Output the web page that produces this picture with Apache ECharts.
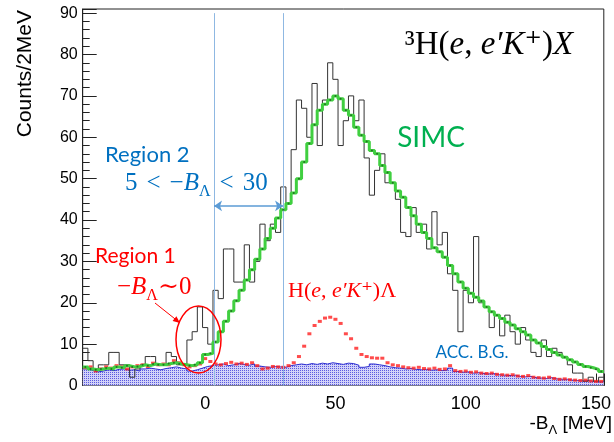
<!DOCTYPE html>
<html>
<head>
<meta charset="utf-8">
<script src="https://cdn.jsdelivr.net/npm/echarts@6/dist/echarts.min.js"></script>
<style>
    html, body { margin: 0; padding: 0; background: #fff; }
    #chart { width: 614px; height: 442px; }
</style>
</head>
<body>
<div id="chart"></div>
<script>
// 2 MeV bins, first lower edge at -47 MeV
const binStart = -47;
const binWidth = 2;

// measured spectrum (black histogram)
const dataCounts = [
    9, 6, 4, 5, 5, 8, 8, 5, 5, 2,
    4, 5, 7, 7, 5, 5, 8, 7, 5, 5,
    11, 13, 19, 14, 10, 23, 21, 33, 33, 25,
    25, 34, 25, 30, 39, 35, 39, 37, 48, 44,
    57, 69, 67, 60, 73, 58, 69, 78, 74, 58,
    64, 70, 64, 69, 55, 46, 52, 56, 49, 49,
    45, 37, 36, 43, 37, 39, 33, 42, 34, 37,
    27, 23, 13, 23, 20, 36, 20, 19, 14, 17,
    12, 17, 13, 10, 14, 11, 8, 7, 11, 7,
    9, 8, 7, 5, 3, 3, 1, 2, 1, 2
];

// SIMC (green)
const simcCounts = [
    4.5, 4, 3.8, 4, 4.2, 4, 4.5, 4.3, 4.8, 4.5,
    4.6, 5, 4.8, 5.2, 5, 5, 5.3, 5.5, 5.2, 5,
    4.8, 5, 5.5, 7.5, 7.8, 10.5, 13, 15.5, 18, 20.5,
    23, 25.5, 28, 30.5, 33, 35.5, 38, 40.5, 42.5, 44,
    46.5, 50, 54, 58.5, 63, 66.5, 68, 69, 70, 69.3,
    66.5, 65.3, 62.4, 60.5, 59, 56.8, 56, 53.2, 51.5, 49,
    47, 45.5, 43, 41, 39, 37, 35.5, 33.3, 32.3, 31,
    29, 27, 25, 23.5, 22.3, 21.3, 20.4, 19, 17.8, 17,
    16.2, 15.3, 14.6, 13.7, 13, 12.2, 11, 10.3, 9.4, 8.7,
    8, 7.4, 6.8, 6.2, 5.7, 5.1, 4.6, 4.3, 3.9, 3.4
];

// H(e,e'K+)Lambda (red points)
const hLambda = [
    4.3, 4.5, 3.5, 4, 4.5, 4.2, 4.8, 4.5, 4, 4.5,
    4.8, 5, 4.6, 5.4, 5, 5.2, 5, 6, 5.5, 5,
    4.5, 4.8, 5.2, 6.5, 5.8, 5.2, 5, 5.3, 5.6, 5.2,
    5.4, 5.1, 5.5, 4.8, 4, 4.2, 4.6, 4.5, 4.4, 4.8,
    5.5, 7, 9.5, 12.5, 14.5, 15.5, 16.3, 16.5, 16, 15,
    12.5, 11.3, 9, 7.5, 7, 6.7, 6.6, 6.6, 5.5, 5,
    4.8, 4.5, 4.3, 4.2, 4.4, 4.1, 4, 4.2, 3.9, 4,
    4.8, 3.6, 3.4, 3.5, 3.2, 3.3, 3, 2.9, 3, 2.7,
    2.6, 2.5, 2.6, 2.3, 2.2, 2.4, 2, 1.9, 1.8, 2,
    1.7, 1.5, 1.6, 1.4, 1.3, 1.2, 1.3, 1.1, 1, 1
];

// accidental background (blue hatched)
const accBG = [
    4, 3.6, 3.3, 3.5, 3.8, 3.6, 3.9, 4, 3.7, 3.8,
    3.5, 4, 4.2, 4, 3.8, 4.1, 4.3, 4.5, 4.2, 4,
    3.5, 3.8, 4.2, 4.6, 4.8, 5, 5.2, 4.8, 5, 5.3,
    5.1, 4.9, 5.2, 4.7, 4.5, 4.4, 4.6, 4.5, 4.4, 4.8,
    5, 5.2, 5, 5.3, 5.1, 5.4, 5.2, 5.5, 5.3, 5.1,
    5.4, 5.3, 4.9, 4.4, 4.6, 5.2, 5, 4.8, 4.5, 4.3,
    4.2, 4, 4.1, 3.9, 3.8, 3.9, 3.7, 3.8, 3.6, 3.7,
    4.2, 3.4, 3.2, 3.3, 3, 3.1, 2.9, 2.8, 2.9, 2.6,
    2.5, 2.4, 2.5, 2.2, 2.1, 2.2, 1.9, 1.8, 1.7, 1.9,
    1.6, 1.5, 1.5, 1.3, 1.2, 1.1, 1.2, 1, 0.9, 0.9
];

const xMin = -47, xMax = 153;
const yMin = 0, yMax = 91;
const regionEdges = [3.4, 29.9];   // region 2 marker lines

// histogram -> step points (left edges + closing right edge)
function stepData(vals) {
    let pts = vals.map((v, i) => [binStart + i * binWidth, v]);
    pts.push([binStart + vals.length * binWidth, vals[vals.length - 1]]);
    return pts;
}
function centerData(vals) {
    return vals.map((v, i) => [binStart + (i + 0.5) * binWidth, v]);
}

// dotted blue hatch for the acc. background
const pat = document.createElement("canvas");
pat.width = 2; pat.height = 2;
const pctx = pat.getContext("2d");
pctx.fillStyle = "#d2d2f8"; pctx.fillRect(0, 0, 2, 2);
pctx.fillStyle = "#5a5ae0"; pctx.fillRect(0, 0, 1, 1);

const sans = '"Liberation Sans", Arial, sans-serif';
const serif = '"Liberation Serif", "DejaVu Serif", serif';
const calib = 'Lato, "Open Sans", sans-serif';

let chart = echarts.init(document.querySelector("#chart"));

// rich styles for the math-ish labels (n normal, i italic, s subscript, o spaced operator)
function mathRich(size, color) {
    let sub = Math.round(size * 0.65);
    return {
        n: { fontFamily: serif, fontSize: size, fill: color, lineHeight: size },
        i: { fontFamily: serif, fontSize: size, fontStyle: "italic", fill: color, lineHeight: size },
        o: { fontFamily: serif, fontSize: size, fill: color, lineHeight: size, padding: [0, 9, 0, 9] },
        s: { fontFamily: serif, fontSize: sub, fill: color, lineHeight: sub,
             verticalAlign: "top", padding: [Math.round(size * 0.5), 0, 0, 0] }
    };
}

let option = {
    animation: false,
    backgroundColor: "#fff",
    grid: {
        left: 82.7, right: 3.3, top: 9, bottom: 56.5,
        show: true, borderColor: "#222", borderWidth: 1, backgroundColor: "transparent"
    },
    xAxis: [
        {
            type: "value", min: xMin, max: xMax, splitNumber: 4,
            axisLine: { onZero: false, lineStyle: { color: "#222" } },
            axisTick: { inside: true, length: 12, lineStyle: { color: "#222" } },
            axisLabel: {
                color: "#000", fontSize: 18, fontFamily: sans, margin: 10,
                formatter: v => (v % 50 === 0 ? String(v) : "")
            },
            splitLine: { show: false }
        },
        {
            type: "value", min: xMin, max: xMax, splitNumber: 20, position: "bottom",
            axisLine: { show: false, onZero: false },
            axisTick: { inside: true, length: 6, lineStyle: { color: "#222" } },
            axisLabel: { show: false },
            splitLine: { show: false }
        }
    ],
    yAxis: [
        {
            type: "value", min: yMin, max: yMax, interval: 10,
            axisLine: { show: true, onZero: false, lineStyle: { color: "#222" } },
            axisTick: { show: true, inside: true, length: 14, lineStyle: { color: "#222" } },
            axisLabel: {
                color: "#000", fontSize: 16, fontFamily: sans, margin: 5,
                formatter: v => (v % 10 === 0 && v <= 90 ? String(v) : "")
            },
            splitLine: { show: false }
        },
        {
            type: "value", min: yMin, max: yMax, interval: 2, position: "left",
            axisLine: { show: false, onZero: false },
            axisTick: { show: true, inside: true, length: 7, lineStyle: { color: "#222" } },
            axisLabel: { show: false },
            splitLine: { show: false }
        }
    ],
    series: [
        {
            name: "ACC. B.G.", type: "line", step: "end", z: 1,
            data: stepData(accBG), symbol: "none",
            lineStyle: { color: "#2b2bd0", width: 1 },
            areaStyle: { color: { image: pat, repeat: "repeat" }, opacity: 1 }
        },
        {
            name: "data", type: "line", step: "end", z: 2,
            data: stepData(dataCounts), symbol: "none",
            lineStyle: { color: "#333", width: 1 },
            markLine: {
                silent: true, symbol: "none", label: { show: false },
                lineStyle: { color: "#8fb8e2", width: 1, type: "solid" },
                data: regionEdges.map(x => [{ coord: [x, 0] }, { coord: [x, 90] }])
            }
        },
        {
            name: "H", type: "scatter", z: 3,
            data: centerData(hLambda), symbol: "rect", symbolSize: [4, 3],
            itemStyle: { color: "#ff1f1f" }
        },
        {
            name: "SIMC", type: "line", step: "end", z: 4,
            data: stepData(simcCounts), symbol: "none",
            lineStyle: { color: "#40cf40", width: 3 },
            markLine: {
                silent: true, symbol: ["arrow", "arrow"], symbolSize: 8, label: { show: false },
                lineStyle: { color: "#5b9bd5", width: 1.5, type: "solid" },
                data: [[{ coord: [regionEdges[0], 43.4] }, { coord: [regionEdges[1], 43.4] }]]
            }
        },
        {
            name: "SIMC pts", type: "scatter", z: 5,
            data: centerData(simcCounts), symbol: "circle", symbolSize: 2,
            itemStyle: { color: "#1d5a1d" }
        }
    ],
    graphic: [
        // axis titles
        {
            type: "text", x: 25, y: 10, rotation: Math.PI / 2,
            style: { text: "Counts/2MeV", font: "21px " + sans, fill: "#000",
                     align: "right", verticalAlign: "middle" }
        },
        {
            type: "text", x: 612, y: 424,
            style: {
                text: "{n|-B}{s|Λ}{n| [MeV]}", align: "right", verticalAlign: "middle",
                rich: {
                    n: { fontFamily: sans, fontSize: 19, fill: "#000", lineHeight: 19 },
                    s: { fontFamily: sans, fontSize: 13, fill: "#000", lineHeight: 13, verticalAlign: "top", padding: [9, 0, 0, 0] }
                }
            }
        },
        // reaction label
        {
            type: "text", x: 489, y: 45,
            style: {
                text: "{n|³H(}{i|e}{n|, }{i|e′K}{n|⁺)}{i|X}", align: "center", verticalAlign: "middle",
                rich: mathRich(33, "#000")
            }
        },
        {
            type: "text", x: 431, y: 138,
            style: { text: "SIMC", font: "28px " + calib, fill: "#00b050",
                     align: "center", verticalAlign: "middle" }
        },
        {
            type: "text", x: 105, y: 155,
            style: { text: "Region 2", font: "22px " + calib, fill: "#0070c0",
                     align: "left", verticalAlign: "middle" }
        },
        {
            type: "text", x: 125, y: 183,
            style: {
                text: "{n|5}{o|<}{n|−}{i|B}{s|Λ}{o|<}{n|30}", align: "left", verticalAlign: "middle",
                rich: mathRich(25, "#0070c0")
            }
        },
        {
            type: "text", x: 95, y: 256,
            style: { text: "Region 1", font: "21px " + calib, fill: "#ff0000",
                     align: "left", verticalAlign: "middle" }
        },
        {
            type: "text", x: 117, y: 287,
            style: {
                text: "{n|−}{i|B}{s|Λ}{n|∼0}", align: "left", verticalAlign: "middle",
                rich: mathRich(25, "#ff0000")
            }
        },
        {
            type: "text", x: 288, y: 291,
            style: {
                text: "{n|H(}{i|e}{n|, }{i|e′K}{n|⁺)Λ}", align: "left", verticalAlign: "middle",
                rich: mathRich(22, "#ff0000")
            }
        },
        {
            type: "text", x: 472, y: 353,
            style: { text: "ACC. B.G.", font: "17px " + calib, fill: "#0070c0",
                     align: "center", verticalAlign: "middle" }
        },
        // region 1 marker
        {
            type: "ellipse", z: 100,
            shape: { cx: 198.5, cy: 339.5, rx: 22.5, ry: 33.5 },
            style: { fill: "none", stroke: "#ff0000", lineWidth: 1.5 }
        },
        {
            type: "line", z: 100,
            shape: { x1: 155, y1: 303, x2: 177, y2: 320.5 },
            style: { stroke: "#ff0000", lineWidth: 1 }
        },
        {
            type: "polygon", z: 100,
            shape: { points: [[180, 323], [172.6, 321.1], [176.4, 316.3]] },
            style: { fill: "#ff0000" }
        }
    ]
};

chart.setOption(option);
</script>
</body>
</html>
